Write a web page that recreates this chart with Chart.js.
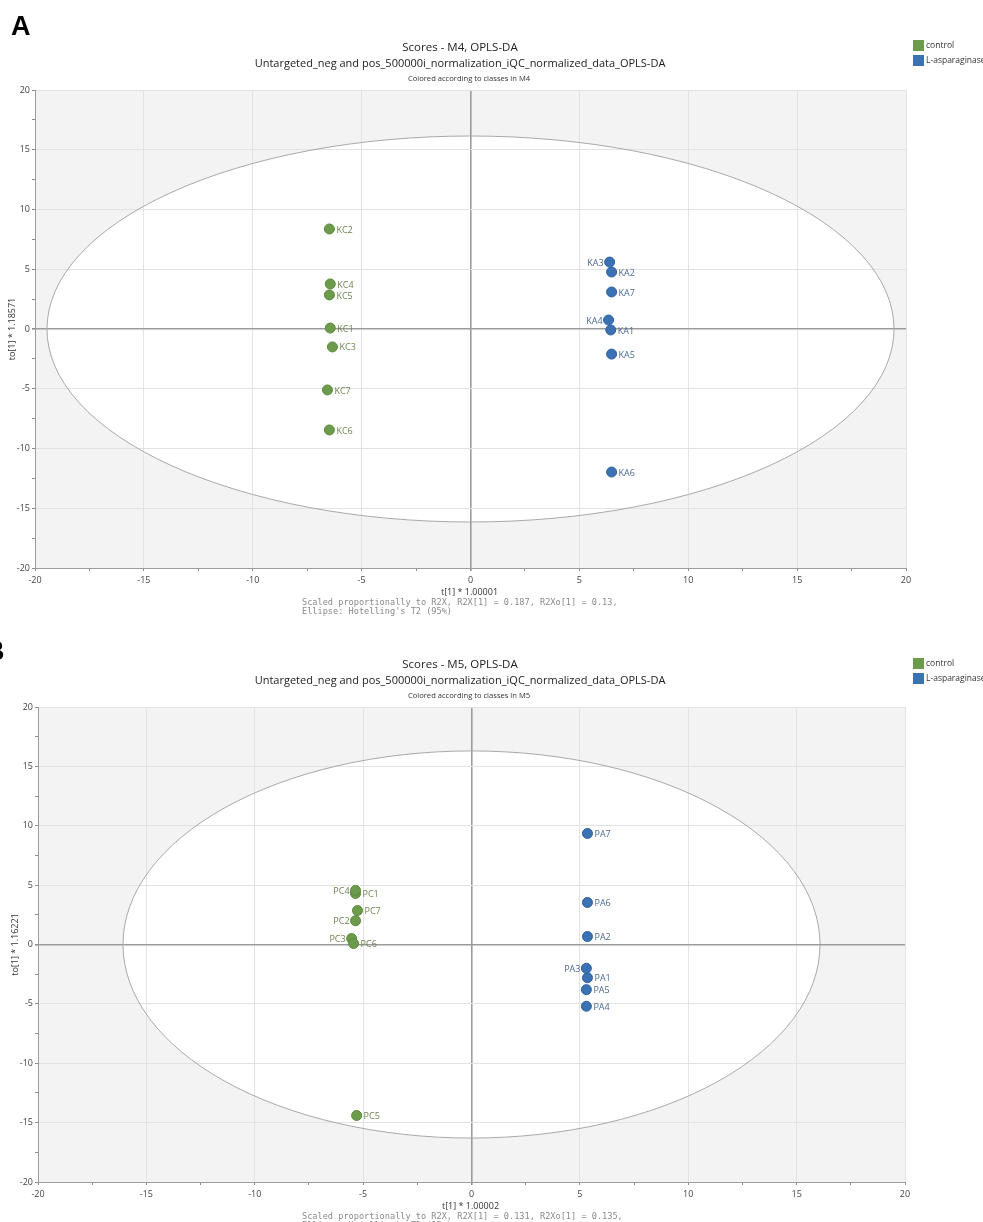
<!DOCTYPE html>
<html>
<head>
<meta charset="utf-8">
<script src="https://cdn.jsdelivr.net/npm/chart.js@4.4.1/dist/chart.umd.min.js"></script>
<style>
  html, body { margin: 0; padding: 0; background: #fff; }
  body { width: 983px; height: 1222px; position: relative; overflow: hidden; }
  canvas { position: absolute; left: 0; }
  #scoresM4 { top: 0; }
  #scoresM5 { top: 620px; }
</style>
</head>
<body>
<canvas id="scoresM4" width="983" height="620"></canvas>
<canvas id="scoresM5" width="983" height="602"></canvas>
<script>
// ---- Model M4 scores: t[1] (predictive) and to[1] (orthogonal) ----
const m4ControlNames = ['KC1', 'KC2', 'KC3', 'KC4', 'KC5', 'KC6', 'KC7'];
const m4ControlT     = [-6.44, -6.48, -6.34, -6.44, -6.48, -6.48, -6.57];
const m4ControlTo    = [0.08, 8.37, -1.5, 3.77, 2.85, -8.45, -5.1];
const m4AspNames     = ['KA1', 'KA2', 'KA3', 'KA4', 'KA5', 'KA6', 'KA7'];
const m4AspT         = [6.44, 6.48, 6.39, 6.34, 6.48, 6.48, 6.48];
const m4AspTo        = [-0.08, 4.77, 5.6, 0.75, -2.1, -11.97, 3.1];
const m4Ellipse      = [19.45, 16.15];   // Hotelling's T2 (95%) semi-axes

// ---- Model M5 scores ----
const m5ControlNames = ['PC1', 'PC2', 'PC3', 'PC4', 'PC5', 'PC6', 'PC7'];
const m5ControlT     = [-5.35, -5.35, -5.53, -5.35, -5.3, -5.44, -5.26];
const m5ControlTo    = [4.3, 2.0, 0.5, 4.55, -14.4, 0.08, 2.86];
const m5AspNames     = ['PA1', 'PA2', 'PA3', 'PA4', 'PA5', 'PA6', 'PA7'];
const m5AspT         = [5.35, 5.35, 5.3, 5.3, 5.3, 5.35, 5.35];
const m5AspTo        = [-2.8, 0.67, -2.0, -5.2, -3.8, 3.54, 9.35];
const m5Ellipse      = [16.08, 16.3];

// Observations whose names sit to the left of the marker
const leftLabelled = ['KA3', 'KA4', 'PC4', 'PC2', 'PC3', 'PA3'];

const axisTicks = { min: -20, max: 20, step: 2.5, labelEvery: 5 };
const classNames = ['control', 'L-asparaginase'];
const classColors = ['#6b9b4b', '#3b72b3'];
const classBorders = ['#5a8a3d', '#2f62a0'];
const labelColors = ['#6e8550', '#4a6891'];

const SANS = '"Open Sans", "Noto Sans", sans-serif';
const MONO = '"DejaVu Sans Mono", "Liberation Mono", monospace';

function pts(xs, ys) { return xs.map((x, i) => ({ x: x, y: ys[i] })); }

function txt(ctx, s, x, y, font, color, align, base) {
  ctx.save();
  ctx.font = font;
  ctx.fillStyle = color;
  ctx.textAlign = align || 'left';
  ctx.textBaseline = base || 'middle';
  ctx.fillText(s, x, y);
  ctx.restore();
}

// Plot background, confidence ellipse, point names, titles and legend
const scorePlot = {
  id: 'scorePlot',
  beforeDraw(chart, args, o) {
    const { ctx, chartArea: a, scales } = chart;
    ctx.save();
    ctx.fillStyle = '#f3f3f3';
    ctx.fillRect(a.left, a.top, a.right - a.left, a.bottom - a.top);
    const cx = scales.x.getPixelForValue(0), cy = scales.y.getPixelForValue(0);
    const rx = scales.x.getPixelForValue(o.ellipse[0]) - cx;
    const ry = cy - scales.y.getPixelForValue(o.ellipse[1]);
    ctx.beginPath();
    ctx.ellipse(cx, cy, rx, ry, 0, 0, Math.PI * 2);
    ctx.fillStyle = '#ffffff';
    ctx.fill();
    ctx.restore();
  },
  beforeDatasetsDraw(chart, args, o) {
    const { ctx, scales } = chart;
    const cx = scales.x.getPixelForValue(0), cy = scales.y.getPixelForValue(0);
    const rx = scales.x.getPixelForValue(o.ellipse[0]) - cx;
    const ry = cy - scales.y.getPixelForValue(o.ellipse[1]);
    ctx.save();
    ctx.beginPath();
    ctx.ellipse(cx, cy, rx, ry, 0, 0, Math.PI * 2);
    ctx.strokeStyle = '#a9a9a9';
    ctx.lineWidth = 1;
    ctx.stroke();
    ctx.restore();
  },
  afterDatasetsDraw(chart, args, o) {
    const { ctx } = chart;
    chart.data.datasets.forEach((ds, di) => {
      const meta = chart.getDatasetMeta(di);
      meta.data.forEach((el, i) => {
        const name = ds.names[i];
        const left = leftLabelled.includes(name);
        txt(ctx, name, left ? el.x - 6 : el.x + 7, el.y + 1,
            '9px ' + SANS, labelColors[di], left ? 'right' : 'left');
      });
    });
  },
  afterDraw(chart, args, o) {
    const { ctx, chartArea: a } = chart;
    // panel letter
    txt(ctx, o.letter, o.letterX, o.letterY, 'bold 27px "Liberation Sans", Arial, sans-serif', '#000', 'left', 'alphabetic');
    // titles
    txt(ctx, o.title, 460, o.titleY, '11.5px ' + SANS, '#222', 'center');
    txt(ctx, o.subtitle, 460, o.titleY + 16.5, '11px ' + SANS, '#222', 'center');
    txt(ctx, o.colored, 469, o.titleY + 31.5, '7.6px ' + SANS, '#333', 'center');
    // legend
    classNames.forEach((n, i) => {
      const y = o.legendY + i * 15;
      ctx.fillStyle = classColors[i];
      ctx.fillRect(913, y, 11, 11);
      txt(ctx, n, 926, y + 5.5, '8.5px ' + SANS, '#333', 'left');
    });
    // axis titles
    txt(ctx, o.xTitle, (a.left + a.right) / 2 - 1, a.bottom + 24, '9px ' + SANS, '#333', 'center');
    ctx.save();
    ctx.translate(o.yTitleX, (a.top + a.bottom) / 2);
    ctx.rotate(-Math.PI / 2);
    txt(ctx, o.yTitle, 0, 0, '9px ' + SANS, '#333', 'center');
    ctx.restore();
    // model notes
    o.notes.forEach((line, i) => {
      txt(ctx, line, 302, a.bottom + 35 + i * 9, '8.6px ' + MONO, '#8a8a8a', 'left');
    });
  }
};

function axis(widthOrHeight, horizontal) {
  return {
    type: 'linear',
    min: axisTicks.min,
    max: axisTicks.max,
    afterFit(s) { if (horizontal) s.height = widthOrHeight; else s.width = widthOrHeight; },
    ticks: {
      stepSize: axisTicks.step,
      autoSkip: false,
      maxRotation: 0,
      padding: horizontal ? 4 : 2,
      color: '#444',
      font: { family: SANS, size: 9 },
      callback: v => (v % axisTicks.labelEvery === 0 ? String(v) : '')
    },
    grid: {
      color: c => c.tick.value === 0 ? '#9c9c9c' : (c.tick.value % axisTicks.labelEvery === 0 ? '#e3e3e3' : 'rgba(0,0,0,0)'),
      lineWidth: c => c.tick.value === 0 ? 1.6 : 1,
      tickColor: '#8c8c8c',
      tickLength: 3,
      drawTicks: true
    },
    border: { display: true, color: '#9c9c9c', width: 1 }
  };
}

function makeScores(id, cfg) {
  return new Chart(document.getElementById(id), {
    type: 'scatter',
    data: {
      datasets: [
        { label: classNames[0], names: cfg.cNames, data: pts(cfg.cT, cfg.cTo),
          backgroundColor: classColors[0], borderColor: classBorders[0], borderWidth: 1, pointRadius: 5 },
        { label: classNames[1], names: cfg.aNames, data: pts(cfg.aT, cfg.aTo),
          backgroundColor: classColors[1], borderColor: classBorders[1], borderWidth: 1, pointRadius: 5 }
      ]
    },
    options: {
      responsive: false,
      animation: false,
      events: [],
      layout: { padding: cfg.padding },
      scales: {
        x: axis(cfg.xAxisH, true),
        y: axis(cfg.yAxisW, false)
      },
      plugins: {
        legend: { display: false },
        title: { display: false },
        tooltip: { enabled: false },
        scorePlot: cfg.text
      }
    },
    plugins: [scorePlot]
  });
}

makeScores('scoresM4', {
  cNames: m4ControlNames, cT: m4ControlT, cTo: m4ControlTo,
  aNames: m4AspNames, aT: m4AspT, aTo: m4AspTo,
  padding: { left: 0, top: 90, right: 77, bottom: 0 },
  xAxisH: 52, yAxisW: 35,
  text: {
    ellipse: m4Ellipse,
    letter: 'A', letterX: 11, letterY: 35,
    title: 'Scores - M4, OPLS-DA',
    subtitle: 'Untargeted_neg and pos_500000i_normalization_iQC_normalized_data_OPLS-DA',
    colored: 'Colored according to classes in M4',
    titleY: 47.5, legendY: 40,
    xTitle: 't[1] * 1.00001', yTitle: 'to[1] * 1.18571', yTitleX: 12,
    notes: ['Scaled proportionally to R2X, R2X[1] = 0.187, R2Xo[1] = 0.13,',
            "Ellipse: Hotelling's T2 (95%)"]
  }
});

makeScores('scoresM5', {
  cNames: m5ControlNames, cT: m5ControlT, cTo: m5ControlTo,
  aNames: m5AspNames, aT: m5AspT, aTo: m5AspTo,
  padding: { left: 0, top: 87, right: 78, bottom: 0 },
  xAxisH: 40, yAxisW: 38,
  text: {
    ellipse: m5Ellipse,
    letter: 'B', letterX: -15, letterY: 40,
    title: 'Scores - M5, OPLS-DA',
    subtitle: 'Untargeted_neg and pos_500000i_normalization_iQC_normalized_data_OPLS-DA',
    colored: 'Colored according to classes in M5',
    titleY: 44.5, legendY: 38,
    xTitle: 't[1] * 1.00002', yTitle: 'to[1] * 1.16221', yTitleX: 15,
    notes: ['Scaled proportionally to R2X, R2X[1] = 0.131, R2Xo[1] = 0.135,',
            "Ellipse: Hotelling's T2 (95%)"]
  }
});
</script>
</body>
</html>
